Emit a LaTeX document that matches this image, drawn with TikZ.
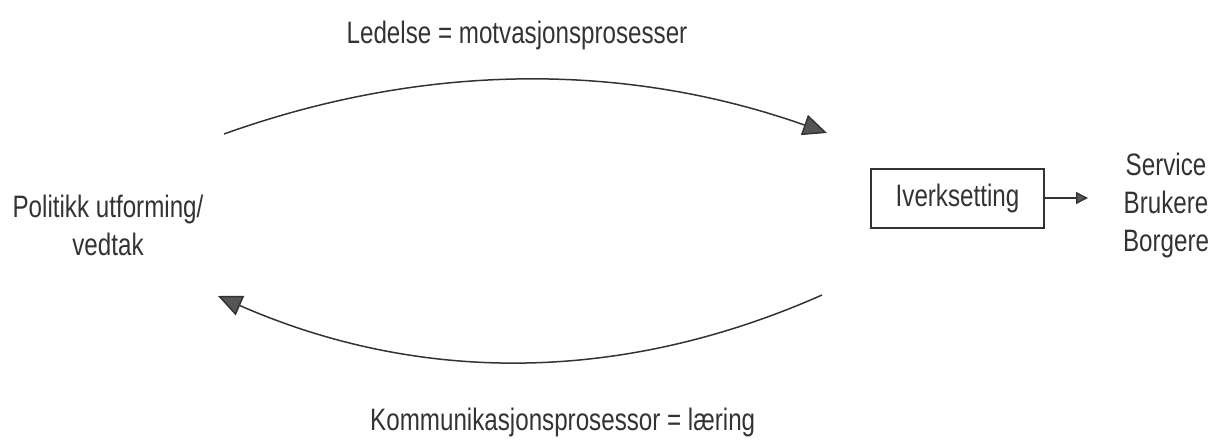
\documentclass[tikz,border=0pt]{standalone}
\usepackage{fontspec}
\setmainfont{Liberation Sans}[FakeStretch=0.78]
\usetikzlibrary{arrows.meta}
\definecolor{ink}{HTML}{333333}
\definecolor{headfill}{HTML}{555555}
\begin{document}
\begin{tikzpicture}[x=1pt,y=-1pt,
  label/.style={inner sep=0pt, text=ink, font=\fontsize{31}{38}\selectfont},
  flow/.style={draw=ink, line width=1.5pt,
    -{Triangle[length=24pt,width=21pt,fill=headfill]}},
  stepbox/.style={draw=ink, line width=2pt, minimum width=173pt,
    minimum height=59pt, inner sep=0pt},
  small/.style={draw=ink, line width=1.4pt,
    -{Triangle[length=12pt,width=12pt,fill=headfill]}}]
\useasboundingbox (0,0) rectangle (1210,441);

% text labels
\node[label, anchor=base] (lead) at (517,44) {Ledelse = motvasjonsprosesser};
\node[label, anchor=base west] (komm) at (370,430) {Kommunikasjonsprosessor = læring};
\node[label, align=center] (pol) at (108,225) {Politikk utforming/\\vedtak};
\node[stepbox, label] (iv) at (957.5,198) {Iverksetting};
\node[label, align=center] (svc) at (1166,205) {Service\\Brukere\\Borgere};

% arc end points
\coordinate (topA) at (224,134);
\coordinate (topB) at (827,133);
\coordinate (botA) at (822,295);
\coordinate (botB) at (218,296);
\coordinate (out) at (1088,198);

% feedback loop
\draw[flow] (topA) .. controls (425,62) and (626,62) .. (topB);
\draw[flow] (botA) .. controls (621,384) and (419,384) .. (botB);

% delivery arrow
\draw[small] (iv.east) -- (out);
\end{tikzpicture}
\end{document}
